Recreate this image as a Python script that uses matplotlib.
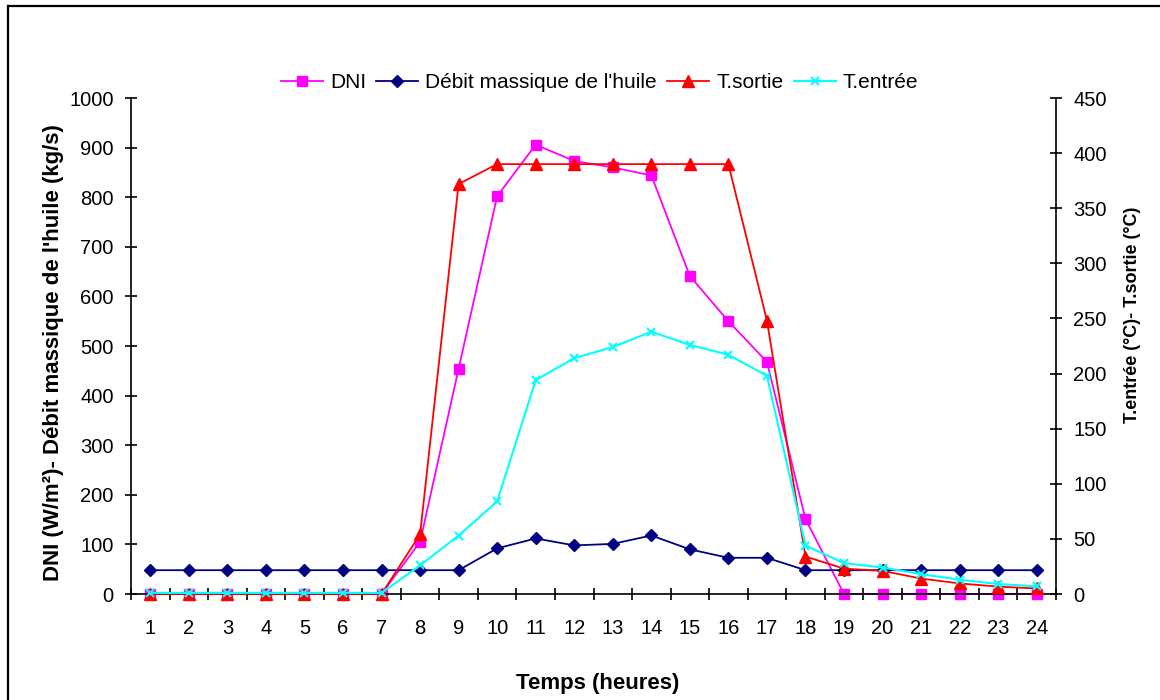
import numpy as np
import matplotlib
matplotlib.use("Agg")
import matplotlib.pyplot as plt
from matplotlib.lines import Line2D

plt.rcParams['font.family'] = ['Liberation Sans', 'DejaVu Sans']

heures = list(range(1, 25))
dni = [0, 0, 0, 0, 0, 0, 0, 105, 454, 802, 906, 873, 860, 844,
       641, 550, 468, 151, 0, 0, 0, 0, 0, 0]
debit = [48, 48, 48, 48, 48, 48, 48, 48, 48, 92, 112, 98, 101, 118,
         90, 73, 73, 48, 48, 48, 48, 48, 48, 48]
t_sortie = [0, 0, 0, 0, 0, 0, 0, 54, 372, 390, 390, 390, 390, 390,
            390, 390, 248, 34, 23, 21, 14, 9.6, 6.7, 5]
t_entree = [1, 1, 1, 1, 1, 1, 1, 26, 53, 84, 194, 214, 224, 238,
            226, 217, 198, 44, 28, 24, 18, 13, 9, 7]

fig = plt.figure(figsize=(11.6, 7), dpi=100)
ax = fig.add_axes([131 / 1160, 1 - 594 / 700, 925 / 1160, 496 / 700])
ax2 = ax.twinx()

ax.plot(heures, dni, '-s', color='#FF00FF', lw=1.3, ms=7, clip_on=False, label="DNI")
ax.plot(heures, debit, '-D', color='#000080', lw=1.3, ms=6, clip_on=False,
        label="Débit massique de l'huile")
ax2.plot(heures, t_sortie, '-^', color='#FF0000', lw=1.3, ms=8, clip_on=False, label="T.sortie")
ax2.plot(heures, t_entree, '-x', color='#00FFFF', lw=1.5, ms=6, mew=1.5, clip_on=False,
         label="T.entrée")

ax.set_xlim(0.5, 24.5)
ax.set_ylim(0, 1000)
ax2.set_ylim(0, 450)
ax.set_yticks(np.arange(0, 1001, 100))
ax2.set_yticks(np.arange(0, 451, 50))
ax.set_xticks(heures)
ax.set_xticks(np.arange(0.5, 25, 1), minor=True)

for a in (ax, ax2):
    for s in a.spines.values():
        s.set_visible(False)
ax.spines['left'].set_visible(True)
ax.spines['bottom'].set_visible(True)
ax2.spines['right'].set_visible(True)
for s in (ax.spines['left'], ax.spines['bottom'], ax2.spines['right']):
    s.set_linewidth(1.2)

ax.tick_params(axis='x', which='major', length=0, pad=18, labelsize=14.5)
ax.tick_params(axis='x', which='minor', direction='inout', length=9, width=1.2)
ax.tick_params(axis='y', direction='inout', length=9, width=1.2, labelsize=14.5, pad=8)
ax2.tick_params(axis='y', direction='inout', length=9, width=1.2, labelsize=14.5, pad=8)

ax.set_ylabel("DNI (W/m²)- Débit massique de l'huile (kg/s)", fontsize=16,
              fontweight='bold', va='center')
ax.yaxis.set_label_coords(-0.0843, 0.486)
ax2.set_ylabel("T.entrée (°C)- T.sortie (°C)", fontsize=13, fontweight='bold', va='center')
ax2.yaxis.set_label_coords(1.0822, 0.5625)
ax.set_xlabel("Temps (heures)", fontsize=16, fontweight='bold', va='center')
ax.xaxis.set_label_coords(0.505, -0.181)

h1, l1 = ax.get_legend_handles_labels()
h2, l2 = ax2.get_legend_handles_labels()
fig.legend(h1 + h2, l1 + l2, loc='center', bbox_to_anchor=(0.517, 1 - 83 / 700),
           ncol=4, frameon=False, fontsize=15, handlelength=2.0,
           handletextpad=0.35, columnspacing=0.5)

# chart area border (top and left edges visible)
fig.add_artist(Line2D([7.5 / 1160, 1], [1 - 5.5 / 700] * 2, transform=fig.transFigure,
                      color='black', lw=1.6))
fig.add_artist(Line2D([7.5 / 1160] * 2, [0, 1 - 5.5 / 700], transform=fig.transFigure,
                      color='black', lw=1.6))

fig.savefig("out.png", dpi=100)
